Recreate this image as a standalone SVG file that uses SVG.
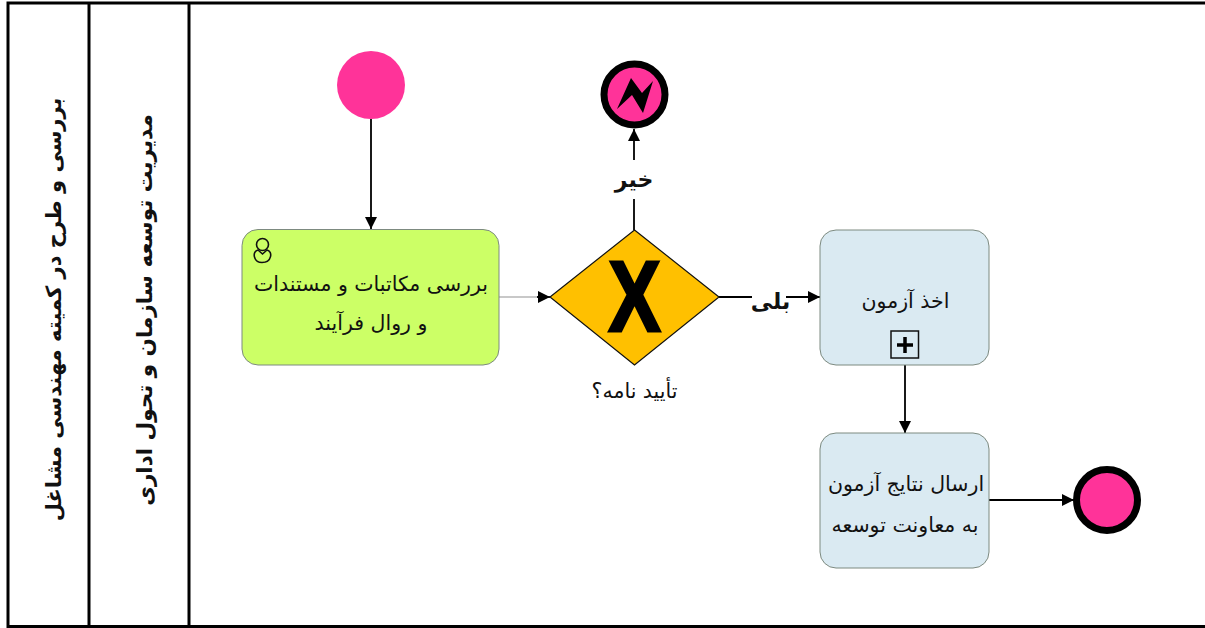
<svg xmlns="http://www.w3.org/2000/svg" width="1205" height="628" viewBox="0 0 1205 628">
<defs>
<marker id="arrow" viewBox="0 0 12 12" refX="12" refY="6" markerWidth="12" markerHeight="12" markerUnits="userSpaceOnUse" orient="auto"><path d="M0 0L12 6L0 12Z" fill="#000"/></marker>
</defs>
<style>
text{font-family:"DejaVu Sans",sans-serif;fill:#111;text-anchor:middle;direction:rtl}
.t{font-size:20.500px}
.lane{font-size:21px;font-weight:bold}
.lbl{font-size:22px;font-weight:bold}
.task{stroke:#7d8a80;stroke-width:1}
.c{fill:none;stroke:#000;stroke-width:1.800}
.ev{fill:#FF3399}
.end{fill:#FF3399;stroke:#000;stroke-width:7}
</style>
<rect width="1205" height="628" fill="#fff"/>
<g id="pool" fill="none" stroke="#000" stroke-width="3">
<rect x="8" y="3" width="1199" height="623.500"/>
<line x1="89" y1="3" x2="89" y2="626"/>
<line x1="189" y1="3" x2="189" y2="626"/>
</g>
<g id="lane-1"><text class="lane" transform="translate(54,309.500) rotate(-90)" dy="7">بررسی و طرح در کمیته مهندسی مشاغل</text></g>
<g id="lane-2"><text class="lane" transform="translate(145,310) rotate(-90)" dy="7" style="font-size:21.500px">مدیریت توسعه سازمان و تحول اداری</text></g>
<g id="connectors">
<line class="c" x1="371" y1="119" x2="371" y2="229" marker-end="url(#arrow)"/>
<line class="c" x1="499" y1="297" x2="538" y2="297" style="stroke:#c8c8c8"/>
<line class="c" x1="537" y1="297" x2="550" y2="297" marker-end="url(#arrow)"/>
<line class="c" x1="634" y1="230" x2="634" y2="199"/>
<line class="c" x1="634" y1="160" x2="634" y2="129" marker-end="url(#arrow)"/>
<line class="c" x1="719" y1="297" x2="752" y2="297"/>
<line class="c" x1="786" y1="297" x2="820" y2="297" marker-end="url(#arrow)"/>
<line class="c" x1="905" y1="365" x2="905" y2="433" marker-end="url(#arrow)"/>
<line class="c" x1="989" y1="500" x2="1074" y2="500" marker-end="url(#arrow)"/>
</g>
<g id="label-no"><text class="lbl" x="634" y="187">خیر</text></g>
<g id="label-yes"><text class="lbl" x="770.500" y="309">بلی</text></g>
<g id="start"><circle class="ev" cx="371" cy="85" r="34"/></g>
<g id="error-end">
<circle class="end" cx="634.500" cy="94.500" r="30.500"/>
<polygon points="617,109 631,78 642,93 653,81 643,113 632,95" fill="#000"/>
</g>
<g id="review">
<rect class="task" x="242" y="229.500" width="257" height="135.500" rx="16" fill="#CCFF66"/>
<g fill="none" stroke="#111" stroke-width="1.600">
<circle cx="262.500" cy="244.500" r="6"/>
<path d="M258 250C252 251 253 262.500 262 262.500C272 262.500 273 251 267 250L262.500 254Z"/>
</g>
<text class="t" x="371" y="291">بررسی مکاتبات و مستندات</text>
<text class="t" x="371" y="330">و روال فرآیند</text>
</g>
<g id="gateway">
<polygon points="634.500,230 719,297 634.500,365 550,297" fill="#FFC000" stroke="#111" stroke-width="1.200"/>
<text transform="translate(634.500,330.500) scale(.78,1)" style="font-family:'Liberation Sans',sans-serif;font-weight:bold;font-size:100px;fill:#000;stroke:#000;stroke-width:3;direction:ltr">X</text>
<text class="t" x="634.500" y="398">تأیید نامه؟</text>
</g>
<g id="exam">
<rect class="task" x="820" y="230" width="169" height="135" rx="16" fill="#DAEAF2"/>
<text class="t" x="905.500" y="308">اخذ آزمون</text>
<rect x="891" y="331" width="27.500" height="27" fill="none" stroke="#111" stroke-width="1.500"/>
<path d="M905 337V353M897 345H913" stroke="#000" stroke-width="3.500" fill="none"/>
</g>
<g id="send">
<rect class="task" x="820" y="433" width="169" height="135" rx="16" fill="#DAEAF2"/>
<text class="t" x="906" y="491">ارسال نتایج آزمون</text>
<text class="t" x="905" y="532">به معاونت توسعه</text>
</g>
<g id="end"><circle class="end" cx="1107" cy="500" r="30.500"/></g>
</svg>
